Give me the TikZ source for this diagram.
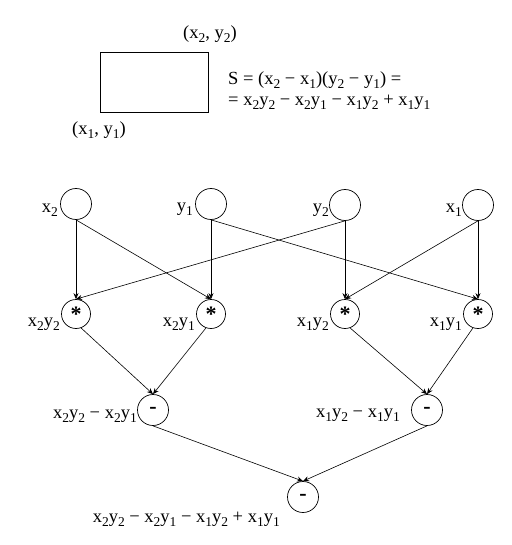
\documentclass[tikz,border=0pt]{standalone}
\usepackage{fontspec}
\setmainfont{Liberation Serif}
\usetikzlibrary{arrows.meta}
\newcommand\lo[1]{\raisebox{-0.5ex}{\fontsize{13.5}{14}\selectfont #1}}
\begin{document}
\begin{tikzpicture}[x=1pt,y=-1pt,
  every node/.style={font=\fontsize{18.5}{20}\selectfont},
  inp/.style={circle, draw, minimum size=31pt, inner sep=0pt, line width=0.7pt},
  op/.style={circle, draw, minimum size=29pt, inner sep=0pt, line width=0.7pt},
  opsym/.style={font=\fontsize{22}{22}\selectfont\bfseries},
  lbl/.style={anchor=east, inner sep=0pt},
  arr/.style={line width=0.6pt, -{Stealth[length=6pt,width=5pt]}}]
\useasboundingbox (0,0) rectangle (511,545);
% rectangle and formulas
\draw[line width=0.9pt] (100,52) rectangle (208,112);
\node[inner sep=0pt] (p2) at (210,34) {(x\lo{2}, y\lo{2})};
\node[inner sep=0pt] (p1) at (99,130) {(x\lo{1}, y\lo{1})};
\node[anchor=west, inner sep=0pt] (s1) at (228,80) {S = (x\lo{2} − x\lo{1})(y\lo{2} − y\lo{1}) =};
\node[anchor=west, inner sep=0pt] (s2) at (228,102) {= x\lo{2}y\lo{2} − x\lo{2}y\lo{1} − x\lo{1}y\lo{2} + x\lo{1}y\lo{1}};
% inputs
\node[inp] (ix2) at (76,204) {};
\node[inp] (iy1) at (211,204) {};
\node[inp] (iy2) at (345,205) {};
\node[inp] (ix1) at (478,205) {};
\node[lbl] (lx2) at (58,210) {x\lo{2}};
\node[lbl] (ly1) at (193,209) {y\lo{1}};
\node[lbl] (ly2) at (329,210) {y\lo{2}};
\node[lbl] (lx1) at (462,210) {x\lo{1}};
% products
\node[op, opsym] (m22) at (76,314) {*};
\node[op, opsym] (m21) at (211,314) {*};
\node[op, opsym] (m12) at (345,314) {*};
\node[op, opsym] (m11) at (478,314) {*};
\node[lbl] (l22) at (60,324) {x\lo{2}y\lo{2}};
\node[lbl] (l21) at (195,324) {x\lo{2}y\lo{1}};
\node[lbl] (l12) at (329,324) {x\lo{1}y\lo{2}};
\node[lbl] (l11) at (462,324) {x\lo{1}y\lo{1}};
% differences
\node[inp, opsym] (d2) at (153,410) {-};
\node[inp, opsym] (d1) at (427,410) {-};
\node[inp, opsym] (fin) at (303,497) {-};
\node[lbl] (ld2) at (137,416) {x\lo{2}y\lo{2} − x\lo{2}y\lo{1}};
\node[lbl] (ld1) at (400,415) {x\lo{1}y\lo{2} − x\lo{1}y\lo{1}};
\node[lbl] (lfin) at (280,519) {x\lo{2}y\lo{2} − x\lo{2}y\lo{1} − x\lo{1}y\lo{2} + x\lo{1}y\lo{1}};
% edges
\draw[arr] (ix2.south) -- (m22.north);
\draw[arr] (ix2.south) -- (m21.north);
\draw[arr] (iy1.south) -- (m21.north);
\draw[arr] (iy1.south) -- (m11.north);
\draw[arr] (iy2.south) -- (m22.north);
\draw[arr] (iy2.south) -- (m12.north);
\draw[arr] (ix1.south) -- (m12.north);
\draw[arr] (ix1.south) -- (m11.north);
\draw[arr] (m22.-70) -- (d2.north);
\draw[arr] (m21.-110) -- (d2.north);
\draw[arr] (m12.-70) -- (d1.north);
\draw[arr] (m11.-110) -- (d1.north);
\draw[arr] (d2.south) -- (fin.north);
\draw[arr] (d1.south) -- (fin.north);
\end{tikzpicture}
\end{document}
